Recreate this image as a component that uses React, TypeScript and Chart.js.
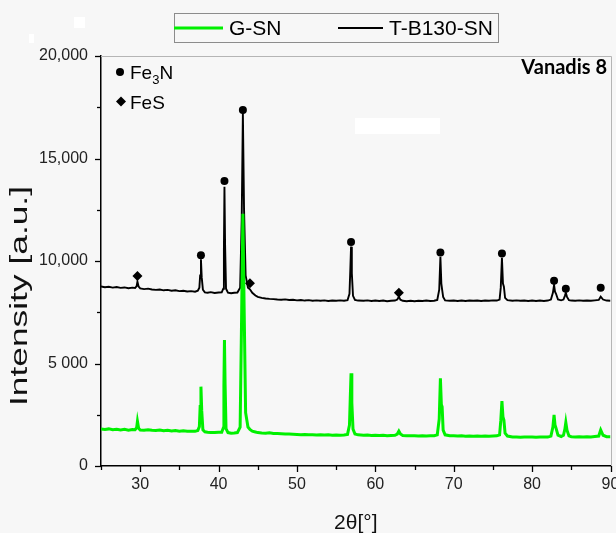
import React, { useEffect, useRef } from 'react';
import { Chart, registerables } from 'chart.js';

Chart.register(...registerables);

// 2θ positions (degrees) shared by both diffraction patterns
const twoTheta = [
  25.0, 25.5, 26.0, 26.5, 27.0, 27.5, 28.0, 28.5, 29.0, 29.35, 29.55, 29.65, 29.8, 30.0,
  30.5, 31.0, 31.5, 32.0, 32.5, 33.0, 33.5, 34.0, 34.5, 35.0, 35.5, 36.0, 36.5, 37.0,
  37.35, 37.55, 37.65, 37.75, 37.85, 38.0, 38.25, 38.6, 39.0, 39.5, 40.0, 40.4, 40.6,
  40.68, 40.75, 40.83, 40.95, 41.2, 41.6, 42.0, 42.4, 42.75, 42.95, 43.1, 43.25, 43.45,
  43.75, 44.0, 44.3, 44.7, 45.0, 45.5, 46.0, 46.5, 47.0, 47.5, 48.0, 48.5, 49.0, 49.5,
  50.0, 50.5, 51.0, 51.5, 52.0, 52.5, 53.0, 53.5, 54.0, 54.5, 55.0, 55.5, 56.0, 56.45,
  56.7, 56.8, 56.9, 57.0, 57.15, 57.4, 57.8, 58.5, 59.0, 59.5, 60.0, 60.5, 61.0, 61.5,
  62.0, 62.5, 62.8, 63.0, 63.2, 63.5, 64.0, 64.5, 65.0, 65.5, 66.0, 66.5, 67.0, 67.5,
  67.9, 68.15, 68.3, 68.42, 68.52, 68.65, 68.9, 69.5, 70.0, 70.5, 71.0, 71.5, 72.0,
  72.5, 73.0, 73.5, 74.0, 74.5, 75.0, 75.5, 75.85, 76.0, 76.15, 76.28, 76.4, 76.55,
  76.85, 77.5, 78.0, 78.5, 79.0, 79.5, 80.0, 80.5, 81.0, 81.5, 82.0, 82.4, 82.65, 82.8,
  82.92, 83.05, 83.3, 83.7, 84.0, 84.18, 84.3, 84.45, 84.7, 85.0, 85.5, 86.0, 86.5,
  87.0, 87.5, 88.0, 88.5, 88.75, 89.05, 89.5, 90.0,
];

// G-SN intensities (a.u.)
const gsn = [
  1800, 1780, 1810, 1770, 1790, 1760, 1790, 1750, 1780, 1770, 1870, 2180, 1840, 1760,
  1750, 1770, 1740, 1730, 1760, 1720, 1740, 1710, 1730, 1700, 1720, 1690, 1700, 1690,
  1730, 1920, 2900, 3870, 2700, 1760, 1670, 1650, 1640, 1630, 1650, 1650, 1850,
  3950, 6150, 4000, 1820, 1630, 1600, 1610, 1630, 1900, 7600, 12300, 8000, 2600,
  1900, 1780, 1700, 1660, 1630, 1610, 1600, 1620, 1590, 1580, 1570, 1560, 1560, 1550,
  1540, 1530, 1540, 1520, 1530, 1510, 1520, 1510, 1520, 1500, 1510, 1500, 1510, 1540,
  2000, 3300, 4520, 3100, 1800, 1560, 1520, 1500, 1510, 1490, 1500, 1490, 1500, 1480,
  1490, 1500, 1560, 1700, 1560, 1490, 1470, 1480, 1470, 1460, 1470, 1460, 1470, 1480,
  1520, 2300, 4280, 3000, 2890, 1750, 1520, 1480, 1470, 1460, 1470, 1450, 1460,
  1450, 1460, 1450, 1460, 1450, 1460, 1470, 1520, 2200, 3170, 2400, 2240, 1600,
  1460, 1420, 1410, 1400, 1420, 1410, 1420, 1400, 1410, 1420, 1410, 1460, 1900, 2490,
  2000, 1850, 1500, 1440, 1500, 1800, 2130, 1750, 1470, 1430, 1420, 1430, 1420,
  1430, 1420, 1440, 1460, 1760, 1500, 1430, 1430,
];

// T-B130-SN intensities (a.u.)
const tb130 = [
  8760, 8720, 8740, 8700, 8730, 8690, 8710, 8670, 8700, 8680, 8780, 8990, 8750, 8660,
  8630, 8650, 8610, 8590, 8610, 8570, 8590, 8550, 8570, 8530, 8550, 8510, 8530, 8500,
  8550, 8700, 9300, 10080, 9200, 8600, 8470, 8450, 8480, 8440, 8460, 8470, 8650,
  10600, 13620, 10800, 8650, 8460, 8430, 8450, 8460, 8700, 12000, 17220, 12500, 9300,
  8700, 8620, 8450, 8320, 8250, 8200, 8170, 8150, 8140, 8120, 8110, 8130, 8100, 8110,
  8080, 8100, 8070, 8090, 8060, 8080, 8060, 8080, 8050, 8070, 8060, 8080, 8060, 8090,
  8400, 9500, 10700, 9400, 8300, 8100, 8070, 8060, 8080, 8050, 8070, 8050, 8070, 8040,
  8060, 8070, 8120, 8260, 8110, 8060, 8040, 8060, 8040, 8060, 8050, 8070, 8050, 8060,
  8100, 8600, 10200, 8900, 8600, 8250, 8080, 8060, 8070, 8050, 8070, 8050, 8070,
  8060, 8070, 8050, 8070, 8060, 8080, 8070, 8120, 8700, 10160, 8900, 8750, 8200,
  8090, 8060, 8080, 8060, 8070, 8050, 8070, 8050, 8070, 8050, 8070, 8120, 8450, 8830,
  8500, 8400, 8120, 8080, 8120, 8300, 8450, 8250, 8090, 8070, 8060, 8080, 8060,
  8070, 8060, 8080, 8100, 8260, 8120, 8070, 8060,
];

// phase markers (placed above the T-B130-SN peaks)
const fe3nTheta = [37.75, 40.75, 43.1, 56.9, 68.3, 76.15, 82.8, 84.3, 88.75];
const fe3nMark = [10280, 13900, 17370, 10930, 10420, 10370, 9040, 8650, 8700];
const fesTheta = [29.65, 44.0, 63.0];
const fesMark = [9270, 8910, 8450];

const seriesNames = ['G-SN', 'T-B130-SN'];
const xTickValues = [30, 40, 50, 60, 70, 80, 90];
const xTickLabels = ['30', '40', '50', '60', '70', '80', '90'];
const yTickValues = [0, 5000, 10000, 15000, 20000];
const yTickLabels = ['0', '5 000', '10,000', '15,000', '20,000'];
const X_MIN = 25;
const X_MAX = 90;
const Y_MIN = 0;
const Y_MAX = 20000;

const FONT = '"Liberation Sans", Arial, sans-serif';
const GREEN = '#00f000';
const BLACK = '#000000';

const decorPlugin = {
  id: 'decor',
  beforeDraw(chart: any) {
    const { ctx, width, height } = chart;
    ctx.save();
    ctx.fillStyle = '#f7f7f7';
    ctx.fillRect(0, 0, width, height);
    ctx.fillStyle = '#ffffff';
    ctx.fillRect(355, 118, 85, 16);
    ctx.fillRect(74, 17, 11, 11);
    ctx.fillRect(29, 34, 5, 9);
    ctx.restore();
  },
  afterDraw(chart: any) {
    const { ctx, chartArea: a, scales } = chart;
    const xs = scales.x;
    const ys = scales.y;
    ctx.save();
    // top / right frame
    ctx.strokeStyle = '#b5b5b5';
    ctx.lineWidth = 1;
    ctx.beginPath();
    ctx.moveTo(a.left, Math.round(a.top) + 0.5);
    ctx.lineTo(Math.round(a.right) + 0.5, Math.round(a.top) + 0.5);
    ctx.lineTo(Math.round(a.right) + 0.5, a.bottom);
    ctx.stroke();

    // tick marks (major + minor) outward
    ctx.strokeStyle = '#000';
    ctx.lineWidth = 1.3;
    for (let v = X_MIN; v <= X_MAX; v += 5) {
      const px = Math.round(xs.getPixelForValue(v)) + 0.5;
      const len = xTickValues.includes(v) ? 6 : 4;
      ctx.beginPath();
      ctx.moveTo(px, a.bottom);
      ctx.lineTo(px, a.bottom + len);
      ctx.stroke();
    }
    for (let v = Y_MIN; v <= Y_MAX; v += 2500) {
      const py = Math.round(ys.getPixelForValue(v)) + 0.5;
      const len = yTickValues.includes(v) ? 6 : 4;
      ctx.beginPath();
      ctx.moveTo(a.left, py);
      ctx.lineTo(a.left - len, py);
      ctx.stroke();
    }

    // axis titles
    ctx.fillStyle = '#111';
    ctx.font = `21px ${FONT}`;
    ctx.textAlign = 'center';
    ctx.textBaseline = 'middle';
    ctx.fillText('2θ[°]', (a.left + a.right) / 2, 523);
    ctx.save();
    ctx.translate(21, 296);
    ctx.rotate(-Math.PI / 2);
    ctx.font = `23px ${FONT}`;
    const tw = ctx.measureText('Intensity [a.u.]').width;
    ctx.scale(220 / tw, 1);
    ctx.fillText('Intensity [a.u.]', 0, 0);
    ctx.restore();

    // legend box
    const ds = chart.data.datasets;
    ctx.strokeStyle = '#8c8c8c';
    ctx.lineWidth = 1;
    ctx.strokeRect(174.5, 13.5, 324, 29);
    ctx.textAlign = 'left';
    ctx.textBaseline = 'middle';
    ctx.font = `21px ${FONT}`;
    const items = [
      { x0: 174, x1: 223, tx: 229, d: ds[0] },
      { x0: 338, x1: 383, tx: 389, d: ds[1] },
    ];
    items.forEach((it) => {
      ctx.strokeStyle = it.d.borderColor;
      ctx.lineWidth = it.d.borderWidth;
      ctx.beginPath();
      ctx.moveTo(it.x0, 28);
      ctx.lineTo(it.x1, 28);
      ctx.stroke();
      ctx.fillStyle = '#000';
      ctx.fillText(it.d.label, it.tx, 29);
    });

    // phase key (top-left)
    ctx.fillStyle = '#000';
    ctx.beginPath();
    ctx.arc(120, 72, 4, 0, Math.PI * 2);
    ctx.fill();
    ctx.textBaseline = 'alphabetic';
    ctx.font = `19px ${FONT}`;
    ctx.fillText('Fe', 130, 79);
    const w = ctx.measureText('Fe').width;
    ctx.font = `13px ${FONT}`;
    ctx.fillText('3', 130 + w, 84);
    const w3 = ctx.measureText('3').width;
    ctx.font = `19px ${FONT}`;
    ctx.fillText('N', 130 + w + w3, 79);

    ctx.beginPath();
    ctx.moveTo(121, 96.5);
    ctx.lineTo(126, 101.5);
    ctx.lineTo(121, 106.5);
    ctx.lineTo(116, 101.5);
    ctx.closePath();
    ctx.fill();
    ctx.fillText('FeS', 130, 109);

    // sample name
    ctx.font = `bold 20px Lato, ${FONT}`;
    ctx.textAlign = 'right';
    ctx.fillText('Vanadis 8', 607, 74);
    ctx.restore();
  },
};

export default function App() {
  const canvasRef = useRef<HTMLCanvasElement | null>(null);

  useEffect(() => {
    const canvas = canvasRef.current;
    if (!canvas) return;

    const line = (vals: number[]) => twoTheta.map((x, i) => ({ x, y: vals[i] }));
    const marks = (xs: number[], ys: number[]) => xs.map((x, i) => ({ x, y: ys[i] }));

    const chart = new Chart(canvas, {
      type: 'line',
      data: {
        datasets: [
          {
            label: seriesNames[0],
            data: line(gsn),
            borderColor: GREEN,
            borderWidth: 3,
            pointRadius: 0,
            tension: 0,
          },
          {
            label: seriesNames[1],
            data: line(tb130),
            borderColor: BLACK,
            borderWidth: 1.9,
            pointRadius: 0,
            tension: 0,
          },
          {
            label: 'Fe3N',
            type: 'scatter',
            data: marks(fe3nTheta, fe3nMark),
            showLine: false,
            pointStyle: 'circle',
            pointRadius: 4,
            backgroundColor: '#000',
            borderColor: '#000',
            borderWidth: 0,
          } as any,
          {
            label: 'FeS',
            type: 'scatter',
            data: marks(fesTheta, fesMark),
            showLine: false,
            pointStyle: 'rectRot',
            pointRadius: 5,
            backgroundColor: '#000',
            borderColor: '#000',
            borderWidth: 0,
          } as any,
        ],
      },
      options: {
        animation: false,
        responsive: false,
        devicePixelRatio: 1,
        layout: { padding: { left: 0, top: 56, right: 5.5, bottom: 0 } },
        plugins: {
          legend: { display: false },
          tooltip: { enabled: false },
        },
        scales: {
          x: {
            type: 'linear',
            min: X_MIN,
            max: X_MAX,
            grid: { display: false, drawTicks: false },
            border: { display: true, color: '#000', width: 1.5 },
            ticks: {
              stepSize: 5,
              autoSkip: false,
              maxRotation: 0,
              padding: 9,
              color: '#222',
              font: { family: FONT, size: 16 },
              callback: (v: any) => {
                const i = xTickValues.indexOf(Number(v));
                return i >= 0 ? xTickLabels[i] : '';
              },
            },
            afterFit: (s: any) => {
              s.height = 67;
              s.paddingLeft = 0;
              s.paddingRight = 0;
            },
          },
          y: {
            type: 'linear',
            min: Y_MIN,
            max: Y_MAX,
            grid: { display: false, drawTicks: false },
            border: { display: true, color: '#000', width: 1.5 },
            ticks: {
              stepSize: 2500,
              autoSkip: false,
              padding: 13,
              color: '#222',
              font: { family: FONT, size: 16 },
              callback: (v: any) => {
                const i = yTickValues.indexOf(Number(v));
                return i >= 0 ? yTickLabels[i] : '';
              },
            },
            afterFit: (s: any) => {
              s.width = 101;
              s.paddingTop = 0;
              s.paddingBottom = 0;
            },
          },
        },
      },
      plugins: [decorPlugin],
    });

    return () => chart.destroy();
  }, []);

  return (
    <div style={{ position: 'absolute', left: 0, top: 0, width: 616, height: 533, background: '#f7f7f7' }}>
      <canvas ref={canvasRef} width={616} height={533} style={{ display: 'block' }} />
    </div>
  );
}
